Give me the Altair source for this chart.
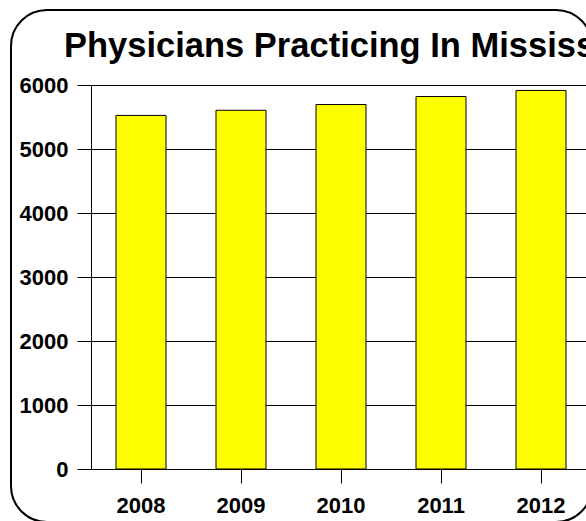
import altair as alt
import pandas as pd

# Physicians practicing in Mississippi, by year
years = ["2008", "2009", "2010", "2011", "2012"]
physicians = [5525, 5605, 5695, 5820, 5915]
y_ticks = [0, 1000, 2000, 3000, 4000, 5000, 6000]
title_text = "Physicians Practicing In Mississippi"

df = pd.DataFrame({"year": years, "count": physicians})

FONT = "Liberation Sans"

bars = alt.Chart(df).mark_bar(
    color="#FFFF00", stroke="black", strokeWidth=1
).encode(
    x=alt.X(
        "year:N",
        sort=years,
        scale=alt.Scale(range=[0, 500], paddingInner=0.5, paddingOuter=0.25),
        axis=alt.Axis(
            title=None, labelAngle=0, tickSize=14, labelPadding=12,
            domain=True, grid=False,
        ),
    ),
    y=alt.Y(
        "count:Q",
        scale=alt.Scale(domain=[0, 6000], nice=False),
        axis=alt.Axis(
            title=None, values=y_ticks, format="d",
            tickSize=14, labelPadding=9, grid=True,
        ),
    ),
)

# Rounded frame around the whole chart
frame = alt.Chart(pd.DataFrame({"k": [0]})).mark_rect(
    fill="transparent", stroke="black", strokeWidth=2, cornerRadius=36
).encode(
    x=alt.value(-80), x2=alt.value(501),
    y=alt.value(-75), y2=alt.value(437),
)

title = alt.Chart(pd.DataFrame({"t": [title_text]})).mark_text(
    align="left", baseline="alphabetic", font=FONT, fontSize=34.5,
    fontWeight="bold", color="black",
).encode(
    text="t:N", x=alt.value(-27), y=alt.value(-28),
)

chart = alt.layer(bars, frame, title).properties(
    width=495, height=384,
    autosize=alt.AutoSizeParams(type="none"),
    padding={"left": 91, "top": 85, "right": 0, "bottom": 52},
    background="white",
).configure_view(
    stroke=None
).configure_axis(
    labelFont=FONT, labelFontSize=22, labelFontWeight="bold",
    labelColor="black", domainColor="black", domainWidth=1,
    tickColor="black", tickWidth=1, gridColor="black", gridWidth=1,
    gridOpacity=1,
)

chart.save("out.html", embed_options={"renderer": "svg", "actions": False})
